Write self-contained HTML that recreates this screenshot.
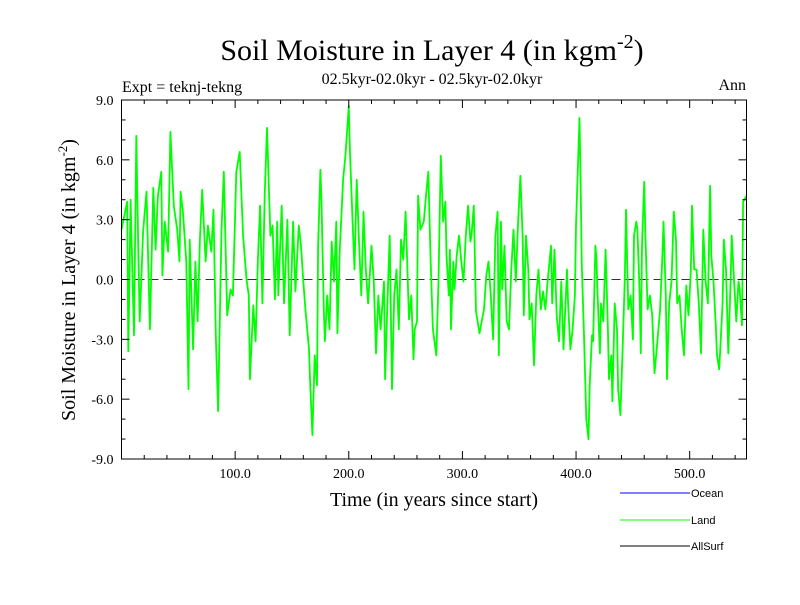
<!DOCTYPE html>
<html><head><meta charset="utf-8"><style>
body{margin:0;background:#fff;width:800px;height:600px;overflow:hidden}
svg{font-family:"Liberation Serif",serif}
</style></head><body>
<svg width="800" height="600" id="svg">
<text x="432" y="60" font-size="30" text-anchor="middle">Soil Moisture in Layer 4 (in kgm<tspan dy="-12" font-size="20">-2</tspan><tspan dy="12">)</tspan></text>
<text x="432" y="84" font-size="16" text-anchor="middle">02.5kyr-02.0kyr - 02.5kyr-02.0kyr</text>
<text x="122" y="92" font-size="16">Expt = teknj-tekng</text>
<text x="746" y="90" font-size="16" text-anchor="end">Ann</text>
<text x="434" y="506" font-size="20" text-anchor="middle">Time (in years since start)</text>
<text transform="translate(75,280) rotate(-90)" font-size="20" text-anchor="middle">Soil Moisture in Layer 4 (in kgm<tspan dy="-8" font-size="13">-2</tspan><tspan dy="8">)</tspan></text>
<g id="plot"></g>
<g font-family="Liberation Sans, sans-serif" font-size="11">
<line x1="620" y1="493" x2="690" y2="493" stroke="#0000ff"/>
<text x="691" y="497">Ocean</text>
<line x1="620" y1="520" x2="690" y2="520" stroke="#00ff00"/>
<text x="691" y="524">Land</text>
<line x1="620" y1="546" x2="690" y2="546" stroke="#000"/>
<text x="691" y="550">AllSurf</text>
</g>
</svg>
<script>
const years=[0,5,6,8,11,13,15,16,19,22,25,28,30,32,35,36,38,41,43,46,49,51,52,54,57,59,60,63,65,67,69,71,74,76,79,81,83,85,88,90,93,96,98,101,104,107,110,112,113,116,118,120,122,124,126,128,131,133,135,137,
138,141,143,146,148,151,153,156,158,160,162,165,166,168,170,172,173,175,176,178,179,181,183,185,187,189,190,192,195,197,200,201,203,205,207,209,211,213,215,217,220,222,224,226,228,231,232,234,236,238,240,242,244,246,248,250,253,255,257,258,260,261,263,266,268,270,272,
274,277,279,281,283,285,286,288,289,290,292,293,295,297,299,301,303,305,307,308,310,312,315,317,319,321,323,325,327,329,331,332,334,335,337,339,341,343,345,347,349,351,353,354,356,358,359,361,363,365,367,369,371,373,375,378,379,381,383,385,387,389,392,393,395,397,399,400,403,404,405,407,
409,411,412,414,415,417,418,419,421,422,424,426,428,429,431,432,434,436,437,439,441,443,444,446,448,450,451,453,454,456,457,458,460,461,463,465,467,469,471,474,476,477,479,480,482,484,486,488,489,491,493,495,497,499,501,502,504,506,508,510,512,514,516,518,519,521,523,524,526,529,530,532,534,536,537,539,541,543,544,546,547,550];
const values=[2.5,3.9,-3.6,4,-2.8,7.2,0.9,-2.1,2.4,4.4,-2.5,4.6,1.5,4.2,5.4,0.2,2.9,1.4,7.4,3.7,2.5,0.9,4.4,3.4,0.9,-5.5,2,-3.5,0.9,-2.1,2,4.5,0.9,2.7,1.4,3.5,-2.8,-6.6,2.5,5.4,-1.8,-0.5,-0.8,5.4,6.4,2.2,0,-0.8,-5,-1.3,-3.1,1,3.7,-1.2,4.2,7.6,2.2,2.7,-1,2.9,
-0.8,3.7,-1.2,3,-2.8,2.9,-0.6,2.7,1.7,-0.1,-1.6,-3.5,-5.1,-7.8,-3.8,-5.3,1.7,5.5,3.9,-1.5,-3.1,-0.8,-2.5,1.9,-0.1,2.9,-2.7,1.4,5,6.2,8.7,6.5,3.4,0.5,5,1.9,-0.8,3.4,0.5,-1.2,1.7,-0.1,-3.7,-0.8,-2.5,-0.1,-5,-1.2,2.2,-5.5,-0.8,0.5,-2.5,2,1,3.4,-2,-0.8,-4,-2.5,-2.1,4.2,2.5,2.9,4.2,5.4,1,
-2.5,-3.8,-0.1,6.2,2.9,3.9,1.2,-0.8,1.5,-2.5,0.9,-0.5,1.2,2.2,0.9,-0.1,2.2,3.7,1.9,2.2,3.7,-1.6,-2.7,-2.1,-1.5,0.2,0.9,-0.8,-3,2.2,3.4,-3.8,2.9,-0.5,1.7,-2.1,-2.5,0.5,2.5,-0.1,2.9,5.2,2.2,-1.8,2.2,0.5,-2,-1.2,-4.3,-0.8,0.5,-1.5,-0.6,-1.5,-0.1,1.7,-1.2,1.5,-1.8,-3.1,-0.1,-3.5,0.5,-1.2,-3.5,-2.5,-0.8,2.7,8.1,5,0.9,-2.8,
-7,-8,-5.3,-2.8,-3.1,1.7,1,-0.8,-3.7,-1.2,-2.1,1.5,-2.5,-5,-3.8,-6.1,-1.2,-2.5,-5.5,-6.8,-3.5,0.2,3.5,-1.5,-0.8,-3,2.2,2.9,2.5,-0.8,-3.7,1.7,4.9,2.2,-1.5,-0.8,-1.8,-4.7,-3.5,-1.5,1.2,2.9,-0.8,-5,-1.2,-0.1,3.4,2,-1.2,-0.8,-2.5,-3.8,-0.3,-1.8,0.4,3.7,0.5,0.5,-1.2,-3.7,2.5,-0.1,-1.2,4.7,1.2,-0.1,-2.3,-3.8,-4.5,-1.2,2,0.5,-3.7,-0.1,2.2,0,-2.1,-0.1,-0.5,-2.3,3.9,4.2];
const yTicks=[-9,-6,-3,0,3,6,9];
const yTickLabels=["-9.0","-6.0","-3.0","0.0","3.0","6.0","9.0"];
const xTicks=[100,200,300,400,500];
const xTickLabels=["100.0","200.0","300.0","400.0","500.0"];
const L=121.5,R=746.5,T=100,B=459,XMIN=0,XMAX=550,YMIN=-9,YMAX=9;
const sx=v=>L+(v-XMIN)/(XMAX-XMIN)*(R-L);
const sy=v=>B-(v-YMIN)/(YMAX-YMIN)*(B-T);
const NS="http://www.w3.org/2000/svg";
const g=document.getElementById('plot');
function mk(t,a){const e=document.createElementNS(NS,t);for(const k in a)e.setAttribute(k,a[k]);g.appendChild(e);return e;}
let z=mk('line',{x1:L,x2:R,y1:sy(0),y2:sy(0),stroke:'#333','stroke-dasharray':'9,5','stroke-width':1});


let d='';for(let i=0;i<years.length;i++){d+=(i?'L':'M')+sx(years[i]).toFixed(1)+','+sy(values[i]).toFixed(1);}
let p=mk('path',{d:d,fill:'none',stroke:'#00ff00','stroke-width':1.8,'stroke-linejoin':'round'});


let f=mk('rect',{x:L,y:T,width:R-L,height:B-T,fill:'none',stroke:'#000','stroke-width':1});


for(let v=-9;v<=9;v++){const maj=v%3===0;const len=maj?8:4;const y=sy(v);
 const a=mk('line',{x1:L,x2:L+len,y1:y,y2:y,stroke:'#000'});
 const b=mk('line',{x1:R,x2:R-len,y1:y,y2:y,stroke:'#000'});}
yTicks.forEach((v,i)=>{const t=mk('text',{x:L-8,y:sy(v)+5,'font-size':14,'text-anchor':'end'});t.textContent=yTickLabels[i];
 
 });
for(let v=20;v<XMAX;v+=20){const maj=v%100===0;const len=maj?8:4;const x=sx(v);
 const a=mk('line',{x1:x,x2:x,y1:B,y2:B-len,stroke:'#000'});
 const b=mk('line',{x1:x,x2:x,y1:T,y2:T+len,stroke:'#000'});}
xTicks.forEach((v,i)=>{const t=mk('text',{x:sx(v),y:B+19,'font-size':14,'text-anchor':'middle'});t.textContent=xTickLabels[i];
 
 });
</script>
</body></html>
